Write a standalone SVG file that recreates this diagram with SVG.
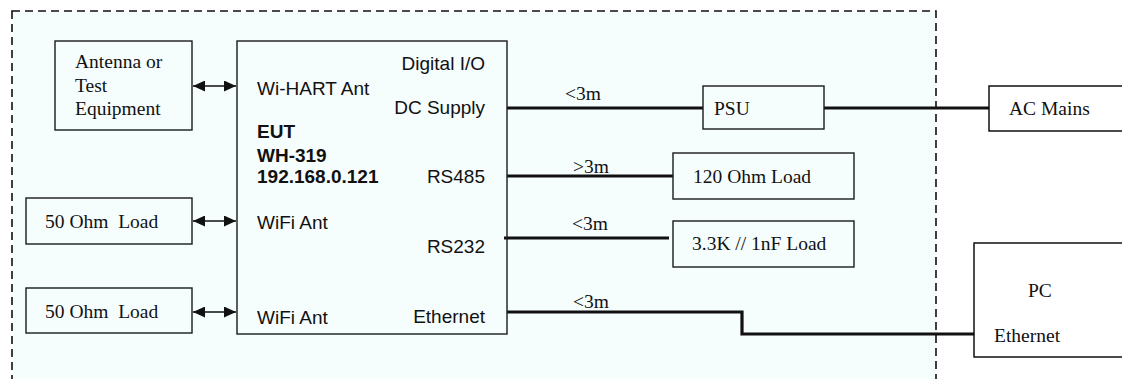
<svg xmlns="http://www.w3.org/2000/svg" width="1122" height="379" viewBox="0 0 1122 379">
<style>
.box{fill:none;stroke:#1a1a1a;stroke-width:1.4}
.wbox{fill:#ffffff;stroke:#000;stroke-width:1.4}
.ar{font-family:"Liberation Sans",Arial,sans-serif;font-size:19px;fill:#111}
.arb{font-family:"Liberation Sans",Arial,sans-serif;font-size:19px;font-weight:bold;fill:#111}
.tm{font-family:"Liberation Serif","Times New Roman",serif;font-size:19.5px;fill:#111}
.wire{fill:none;stroke:#111;stroke-width:3.2}
.dbl{stroke:#111;stroke-width:1.5;marker-start:url(#ah);marker-end:url(#ah)}
</style>
<defs>
<marker id="ah" viewBox="0 0 12 11" refX="12" refY="5.5" markerWidth="12" markerHeight="11" markerUnits="userSpaceOnUse" orient="auto-start-reverse">
<path d="M0,0 L12,5.5 L0,11 Z" fill="#111"/>
</marker>
</defs>
<rect x="0" y="0" width="1122" height="379" fill="#ffffff"/>
<g id="boundary">
<rect x="12" y="11" width="924" height="380" fill="#f6fdfd" stroke="#111" stroke-width="1.6" stroke-dasharray="8,5"/>
</g>
<g id="connectors">
<line class="dbl" x1="193" y1="86" x2="236" y2="86"/>
<line class="dbl" x1="193" y1="221" x2="236" y2="221"/>
<line class="dbl" x1="193" y1="312" x2="236" y2="312"/>
<line class="wire" x1="507" y1="108" x2="703" y2="108"/>
<line class="wire" x1="824" y1="108" x2="989" y2="108"/>
<line class="wire" x1="507" y1="176" x2="673" y2="176"/>
<line class="wire" x1="504" y1="238" x2="669" y2="238"/>
<polyline class="wire" points="507,312 742,312 742,334 974,334"/>
<text class="tm" x="565" y="100">&lt;3m</text>
<text class="tm" x="573" y="173">&gt;3m</text>
<text class="tm" x="572" y="230">&lt;3m</text>
<text class="tm" x="573" y="308">&lt;3m</text>
</g>
<g id="antenna">
<rect class="box" x="55" y="41" width="137" height="89"/>
<text class="tm" x="75" y="68">Antenna or</text>
<text class="tm" x="75" y="92">Test</text>
<text class="tm" x="75" y="115">Equipment</text>
</g>
<g id="load50a">
<rect class="box" x="26" y="198" width="166" height="46"/>
<text class="tm" x="45" y="228" xml:space="preserve">50 Ohm  Load</text>
</g>
<g id="load50b">
<rect class="box" x="26" y="288" width="166" height="45"/>
<text class="tm" x="45" y="318" xml:space="preserve">50 Ohm  Load</text>
</g>
<g id="eut">
<rect class="box" x="237" y="41" width="270" height="293"/>
<text class="ar" x="485" y="70" text-anchor="end">Digital I/O</text>
<text class="ar" x="257" y="95">Wi-HART Ant</text>
<text class="ar" x="485" y="114" text-anchor="end">DC Supply</text>
<text class="arb" x="257" y="138">EUT</text>
<text class="arb" x="257" y="162">WH-319</text>
<text class="arb" x="257" y="183">192.168.0.121</text>
<text class="ar" x="485" y="183" text-anchor="end">RS485</text>
<text class="ar" x="257" y="229">WiFi Ant</text>
<text class="ar" x="485" y="253" text-anchor="end">RS232</text>
<text class="ar" x="257" y="324">WiFi Ant</text>
<text class="ar" x="485" y="323" text-anchor="end">Ethernet</text>
</g>
<g id="psu">
<rect class="box" x="703" y="86" width="121" height="43"/>
<text class="tm" x="714" y="115">PSU</text>
</g>
<g id="acmains">
<rect class="wbox" x="989" y="86" width="140" height="45"/>
<text class="tm" x="1009" y="115">AC Mains</text>
</g>
<g id="load120">
<rect class="box" x="673" y="153" width="181" height="46"/>
<text class="tm" x="693" y="183">120 Ohm Load</text>
</g>
<g id="load33k">
<rect class="box" x="673" y="221" width="181" height="46"/>
<text class="tm" x="692" y="250">3.3K // 1nF Load</text>
</g>
<g id="pc">
<rect class="wbox" x="974" y="243" width="155" height="114"/>
<text class="tm" x="1028" y="297">PC</text>
<text class="tm" x="994" y="342">Ethernet</text>
</g>
</svg>
